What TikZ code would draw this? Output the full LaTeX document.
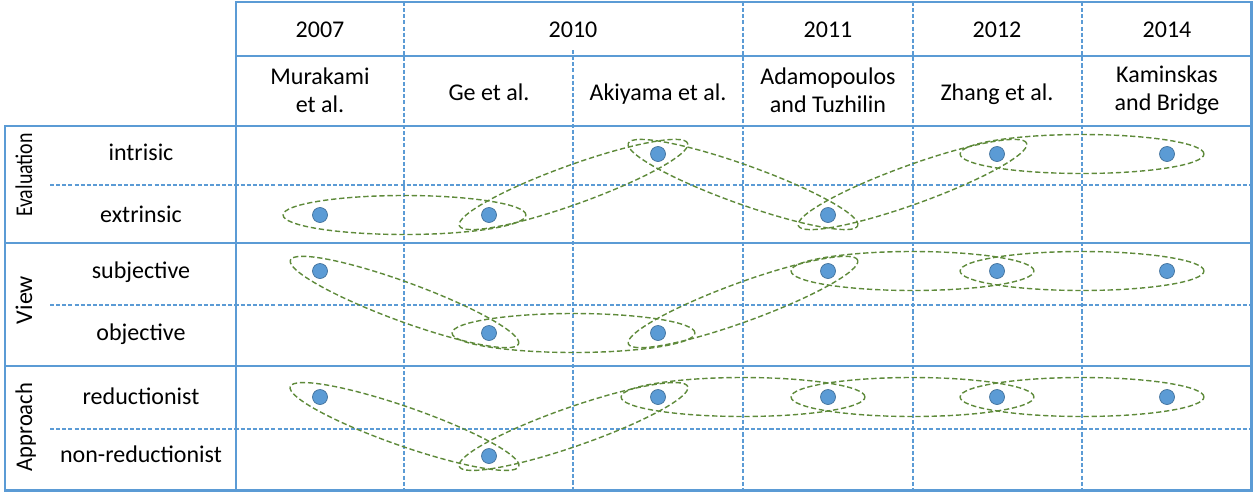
\documentclass[tikz,border=0pt]{standalone}
\usepackage{fontspec}
\usepackage{graphicx}
\setmainfont{Carlito}
\usetikzlibrary{shapes.geometric,calc}
\definecolor{gridblue}{HTML}{5B9BD5}
\definecolor{dotedge}{HTML}{41719C}
\definecolor{grpgreen}{HTML}{5E8A3A}
\newcommand\grpell[4]{%
  \path let \p1=(#1), \p2=(#2),
    \n1={atan2(\y2-\y1,\x2-\x1)},
    \n2={veclen(\x2-\x1,\y2-\y1)} in
    ($(#1)!0.5!(#2)$) node[grp, rotate=\n1, minimum width=\n2+#4] (#3) {};}
\begin{document}
\begin{tikzpicture}[x=0.02cm, y=-0.02cm,
  thickline/.style={gridblue, line width=1.7pt},
  thinline/.style={gridblue, line width=0.8pt},
  dashline/.style={gridblue, line width=0.6pt, dash pattern=on 2.3pt off 1.2pt},
  lbl/.style={font=\fontsize{13.66}{15.9}\selectfont, inner sep=0pt},
  dot/.style={circle, fill=gridblue, draw=dotedge, line width=0.4pt, minimum size=0.3cm, inner sep=0pt},
  grp/.style={ellipse, draw=grpgreen, line width=0.8pt, dash pattern=on 3pt off 1.6pt, inner sep=0pt, outer sep=0pt, minimum height=0.78cm}
]
\useasboundingbox (0,0) rectangle (1254,494);
% grid
\foreach \x in {404,743,913,1082} \draw[dashline] (\x,2) -- (\x,490);
\draw[dashline] (573,50) -- (573,490);
\foreach \y in {185,305,429} \draw[dashline] (50,\y) -- (1251,\y);
\draw[thinline] (236,56) -- (1251,56);
\foreach \y in {243,366} \draw[thinline] (5,\y) -- (1251,\y);
\draw[thickline] (236,490) -- (236,2) -- (1251,2) -- (1251,490) -- (5,490) -- (5,126) -- (1251,126);

% header
\node[lbl, anchor=base] (y1) at (320,37) {2007};
\node[lbl, anchor=base] (y2) at (573,37) {2010};
\node[lbl, anchor=base] (y3) at (828,37) {2011};
\node[lbl, anchor=base] (y4) at (997,37) {2012};
\node[lbl, anchor=base] (y5) at (1167,37) {2014};
\node[lbl, align=center] (a1) at (320,90) {Murakami\\et al.};
\node[lbl, anchor=base] (a2) at (489,100) {Ge et al.};
\node[lbl, anchor=base] (a3) at (658,100) {Akiyama et al.};
\node[lbl, align=center] (a4) at (828,90) {Adamopoulos\\and Tuzhilin};
\node[lbl, anchor=base] (a5) at (997,100) {Zhang et al.};
\node[lbl, align=center] (a6) at (1167,90) {Kaminskas\\and Bridge};

% side labels
\node[lbl, rotate=90, anchor=base] (s1) at (32,175) {\scalebox{0.83}[1]{Evaluation}};
\node[lbl, rotate=90, anchor=base] (s2) at (32,300) {View};
\node[lbl, rotate=90, anchor=base] (s3) at (32,427) {\scalebox{0.94}[1]{Approach}};
\node[lbl, anchor=base] (l1) at (141,160) {intrisic};
\node[lbl, anchor=base] (l2) at (141,222) {extrinsic};
\node[lbl, anchor=base] (l3) at (141,278) {subjective};
\node[lbl, anchor=base] (l4) at (141,340) {objective};
\node[lbl, anchor=base] (l5) at (141,404) {reductionist};
\node[lbl, anchor=base] (l6) at (141,462) {non-reductionist};

% dots
\node[dot] (d13) at (658,154) {};
\node[dot] (d15) at (997,154) {};
\node[dot] (d16) at (1167,154) {};
\node[dot] (d21) at (320,215) {};
\node[dot] (d22) at (489,215) {};
\node[dot] (d24) at (828,215) {};
\node[dot] (d31) at (320,271) {};
\node[dot] (d34) at (828,271) {};
\node[dot] (d35) at (997,271) {};
\node[dot] (d36) at (1167,271) {};
\node[dot] (d42) at (489,333) {};
\node[dot] (d43) at (658,333) {};
\node[dot] (d51) at (320,397) {};
\node[dot] (d53) at (658,397) {};
\node[dot] (d54) at (828,397) {};
\node[dot] (d55) at (997,397) {};
\node[dot] (d56) at (1167,397) {};
\node[dot] (d62) at (489,456) {};

% groups
\grpell{d21}{d22}{e1}{42pt}
\grpell{d22}{d13}{e2}{36pt}
\grpell{d13}{d24}{e3}{36pt}
\grpell{d24}{d15}{e4}{36pt}
\grpell{d15}{d16}{e5}{42pt}
\grpell{d31}{d42}{v1}{36pt}
\grpell{d42}{d43}{v2}{42pt}
\grpell{d43}{d34}{v3}{36pt}
\grpell{d34}{d35}{v4}{42pt}
\grpell{d35}{d36}{v5}{42pt}
\grpell{d51}{d62}{p1}{36pt}
\grpell{d62}{d53}{p2}{36pt}
\grpell{d53}{d54}{p3}{42pt}
\grpell{d54}{d55}{p4}{42pt}
\grpell{d55}{d56}{p5}{42pt}
\end{tikzpicture}
\end{document}
